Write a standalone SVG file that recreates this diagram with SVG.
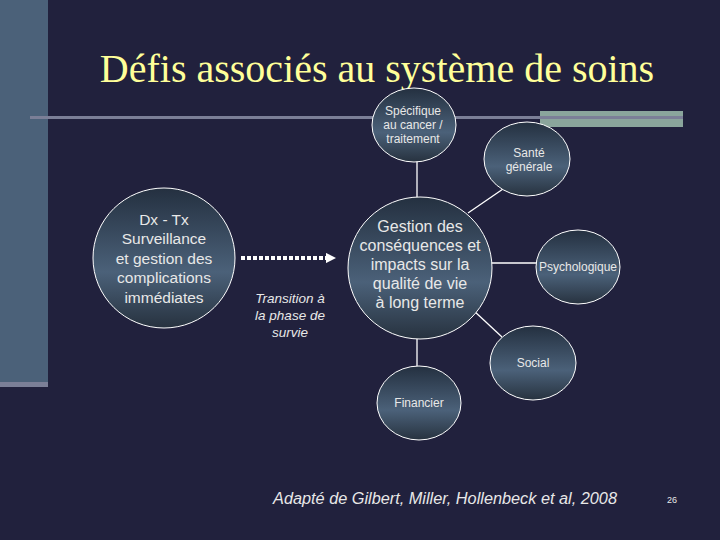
<svg xmlns="http://www.w3.org/2000/svg" width="720" height="540" viewBox="0 0 720 540">
  <defs>
    <linearGradient id="g" x1="0" y1="0" x2="0" y2="1">
      <stop offset="0" stop-color="#243040"/>
      <stop offset="0.6" stop-color="#4b6179"/>
      <stop offset="1" stop-color="#27323f"/>
    </linearGradient>
    <marker id="arr" viewBox="0 0 10 10" refX="5" refY="5" markerWidth="2.6" markerHeight="2.6" orient="auto" markerUnits="strokeWidth">
      <path d="M0,0 L10,5 L0,10 Z" fill="#ffffff"/>
    </marker>
    <style>
      .node ellipse { fill: url(#g); stroke: #ffffff; stroke-width: 1; }
      .t { font-family: "Liberation Sans", Arial, sans-serif; fill: #e8e8e8; text-anchor: middle; }
      .conn line { stroke: #ffffff; stroke-width: 1.3; }
    </style>
  </defs>
  <rect width="720" height="540" fill="#21213d"/>
  <rect x="0" y="0" width="48" height="382" fill="#4b6179"/>
  <rect x="0" y="382" width="48" height="5" fill="#7b7f97"/>
  <rect x="540" y="111" width="143" height="16" fill="#8aa59c"/>
  <rect x="30" y="116" width="653" height="3" fill="#7b7f97"/>
  <text x="377" y="82" font-family="'Liberation Serif', 'Times New Roman', serif" font-size="40" fill="#ffff99" text-anchor="middle">Défis associés au système de soins</text>

  <g id="connectors" class="conn">
    <line x1="417" y1="161" x2="417" y2="197"/>
    <line x1="503" y1="189" x2="468" y2="213"/>
    <line x1="491" y1="263" x2="536" y2="263"/>
    <line x1="473" y1="310" x2="502" y2="337"/>
    <line x1="417" y1="339" x2="417" y2="366"/>
    <line x1="241" y1="258" x2="331" y2="258" stroke-dasharray="4 2" style="stroke-width:4" marker-end="url(#arr)"/>
  </g>

  <g id="dx" class="node">
    <ellipse cx="164" cy="258" rx="71" ry="70"/>
    <text class="t" font-size="15.5"><tspan x="164" y="225">Dx - Tx</tspan><tspan x="164" y="244">Surveillance</tspan><tspan x="164" y="264">et gestion des</tspan><tspan x="164" y="283">complications</tspan><tspan x="164" y="303">immédiates</tspan></text>
  </g>

  <g id="transition">
    <text class="t" font-size="13.5" font-style="italic"><tspan x="290" y="303">Transition à</tspan><tspan x="290" y="320">la phase de</tspan><tspan x="290" y="337">survie</tspan></text>
  </g>

  <g id="specifique" class="node">
    <ellipse cx="414" cy="125" rx="42" ry="37"/>
    <text class="t" font-size="12"><tspan x="413" y="115">Spécifique</tspan><tspan x="413" y="129">au cancer /</tspan><tspan x="413" y="143">traitement</tspan></text>
  </g>

  <g id="sante" class="node">
    <ellipse cx="527" cy="159" rx="43" ry="37"/>
    <text class="t" font-size="12"><tspan x="529" y="157">Santé</tspan><tspan x="529" y="171">générale</tspan></text>
  </g>

  <g id="gestion" class="node">
    <ellipse cx="420" cy="268" rx="72" ry="71"/>
    <text class="t" font-size="16"><tspan x="420" y="232">Gestion des</tspan><tspan x="420" y="251">conséquences et</tspan><tspan x="420" y="270">impacts sur la</tspan><tspan x="420" y="289">qualité de vie</tspan><tspan x="420" y="308">à long terme</tspan></text>
  </g>

  <g id="psychologique" class="node">
    <ellipse cx="578" cy="267" rx="42" ry="37"/>
    <text class="t" font-size="12" x="578" y="271">Psychologique</text>
  </g>

  <g id="social" class="node">
    <ellipse cx="533" cy="363" rx="43" ry="37"/>
    <text class="t" font-size="12" x="533" y="367">Social</text>
  </g>

  <g id="financier" class="node">
    <ellipse cx="419" cy="403" rx="42" ry="37"/>
    <text class="t" font-size="12" x="419" y="407">Financier</text>
  </g>

  <text class="t" font-size="16.3" font-style="italic" x="445" y="504">Adapté de Gilbert, Miller, Hollenbeck et al, 2008</text>
  <text class="t" font-size="9" x="672" y="503">26</text>
</svg>
